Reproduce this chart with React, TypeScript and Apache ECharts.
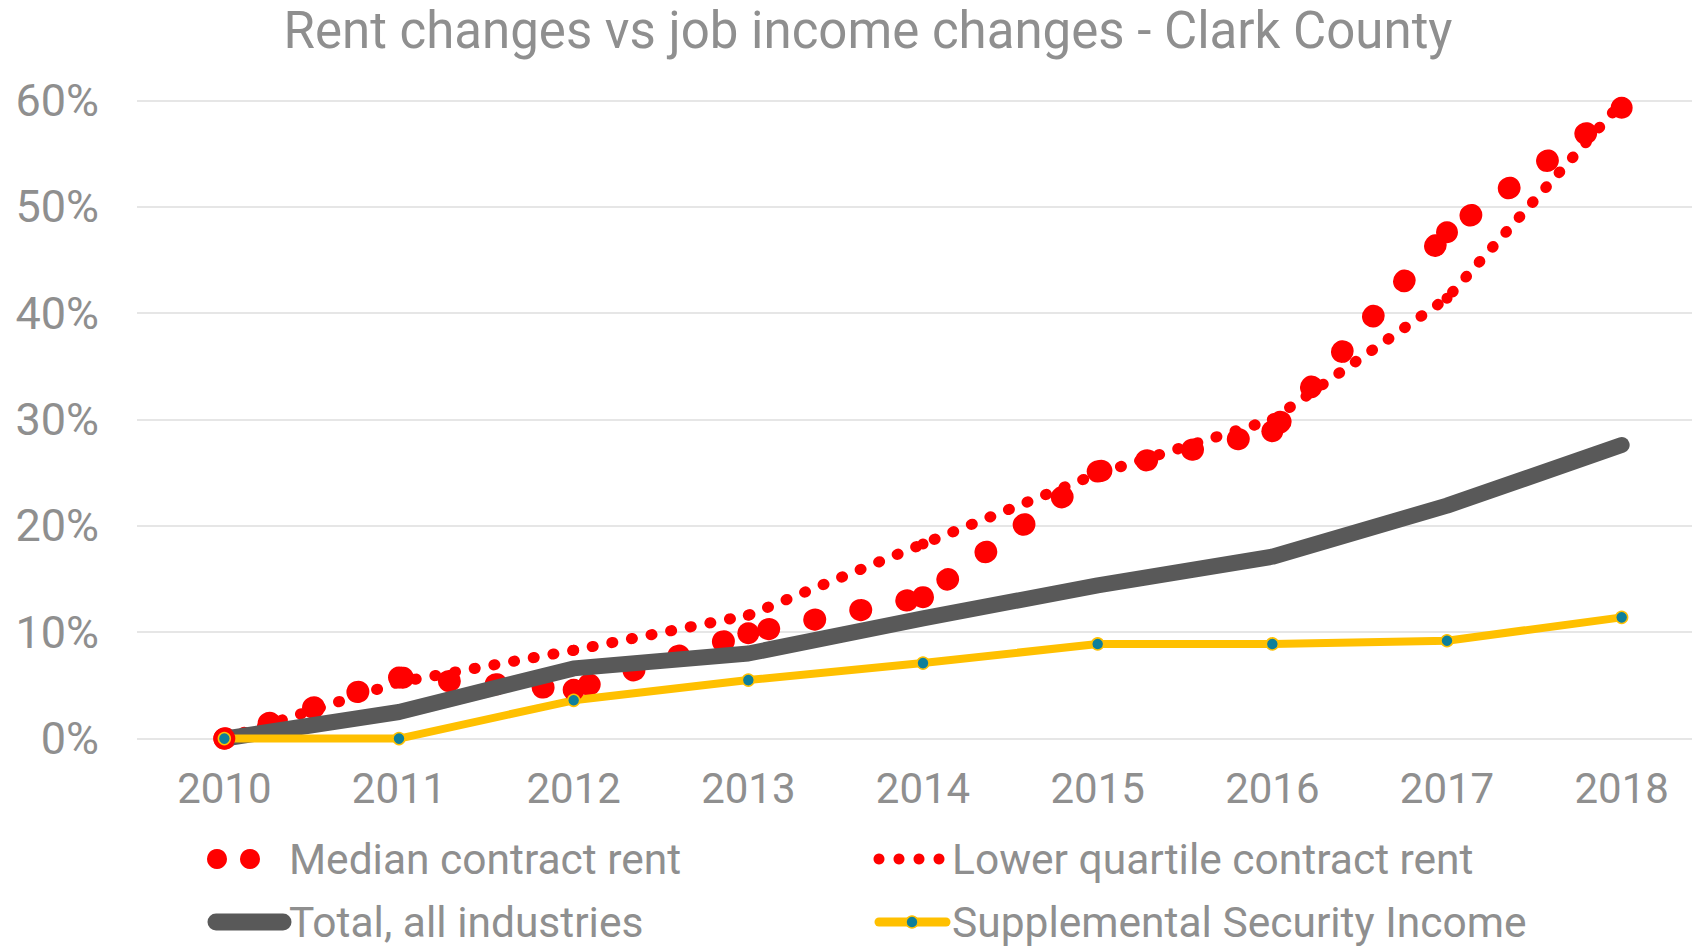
import React, { useEffect, useRef } from "react";
import * as echarts from "echarts";

// ---- data (percent change since 2010) ----
const years = ["2010", "2011", "2012", "2013", "2014", "2015", "2016", "2017", "2018"];
const medianContractRent = [0, 5.75, 4.6, 9.9, 13.3, 25.1, 28.9, 47.6, 59.3];
const lowerQuartileContractRent = [0, 5.3, 8.3, 11.6, 18.3, 24.9, 30.0, 41.4, 59.8];
const totalAllIndustries = [0, 2.5, 6.6, 8.0, 11.3, 14.4, 17.1, 21.9, 27.6];
const supplementalSecurityIncome = [0, 0, 3.6, 5.5, 7.1, 8.9, 8.9, 9.2, 11.4];

const seriesNames = [
  "Median contract rent",
  "Lower quartile contract rent",
  "Total, all industries",
  "Supplemental Security Income",
];
const titleText = "Rent changes vs job income changes - Clark County";

// ---- style ----
const RED = "#FF0000";
const DARK = "#595959";
const YELLOW = "#FFC000";
const TEAL = "#0E7F9B";
const TEXT = "#8F8F8F";
const GRID = "#DEDEDE";
const FONT = "Roboto";

export default function App() {
  const ref = useRef<HTMLDivElement>(null);

  useEffect(() => {
    if (!ref.current) return;
    const chart = echarts.init(ref.current, undefined, { renderer: "svg" });

    const legendText = (text: string, x: number, y: number) => ({
      type: "text",
      x,
      y,
      style: {
        text,
        fill: TEXT,
        fontSize: 42.5,
        fontFamily: FONT,
        align: "left",
        verticalAlign: "middle",
      },
    });

    const option: any = {
      animation: false,
      backgroundColor: "#ffffff",
      title: {
        text: titleText,
        left: 868,
        top: 0,
        padding: 0,
        textAlign: "center",
        textStyle: {
          color: TEXT,
          fontSize: 51,
          lineHeight: 61,
          fontWeight: "normal",
          fontFamily: FONT,
        },
      },
      grid: {
        left: 137,
        right: -17,
        top: 100.4,
        bottom: 208.4,
        containLabel: false,
        outerBoundsMode: "none",
      },
      xAxis: {
        type: "category",
        data: years,
        boundaryGap: true,
        axisLine: { show: false },
        axisTick: { show: false },
        splitLine: { show: false },
        axisLabel: {
          color: TEXT,
          fontSize: 42,
          fontFamily: FONT,
          margin: 29,
          interval: 0,
        },
      },
      yAxis: {
        type: "value",
        min: 0,
        max: 60,
        interval: 10,
        axisLine: { show: false },
        axisTick: { show: false },
        splitLine: { lineStyle: { color: GRID, width: 1.5 } },
        axisLabel: {
          color: TEXT,
          fontSize: 45,
          fontFamily: FONT,
          margin: 38,
          formatter: "{value}%",
        },
      },
      series: [
        {
          name: seriesNames[0],
          type: "line",
          data: medianContractRent,
          clip: false,
          symbol: "circle",
          symbolSize: 22,
          showSymbol: true,
          itemStyle: { color: RED },
          lineStyle: { color: RED, width: 22, type: [1, 46], cap: "round" },
        },
        {
          name: seriesNames[1],
          type: "line",
          data: lowerQuartileContractRent,
          clip: false,
          symbol: "circle",
          symbolSize: 11,
          showSymbol: true,
          itemStyle: { color: RED },
          lineStyle: { color: RED, width: 11, type: [1, 19], cap: "round" },
        },
        {
          name: seriesNames[2],
          type: "line",
          data: totalAllIndustries,
          clip: false,
          showSymbol: false,
          symbol: "none",
          lineStyle: { color: DARK, width: 16, cap: "round", join: "round" },
        },
        {
          name: seriesNames[3],
          type: "line",
          data: supplementalSecurityIncome,
          clip: false,
          symbol: "circle",
          symbolSize: 12,
          showSymbol: true,
          itemStyle: { color: TEAL, borderColor: YELLOW, borderWidth: 1.5 },
          lineStyle: { color: YELLOW, width: 8, join: "round" },
        },
      ],
      graphic: [
        { type: "circle", shape: { cx: 217, cy: 859, r: 10 }, style: { fill: RED } },
        { type: "circle", shape: { cx: 250, cy: 859, r: 10 }, style: { fill: RED } },
        { type: "circle", shape: { cx: 879, cy: 859, r: 5.5 }, style: { fill: RED } },
        { type: "circle", shape: { cx: 899, cy: 859, r: 5.5 }, style: { fill: RED } },
        { type: "circle", shape: { cx: 919, cy: 859, r: 5.5 }, style: { fill: RED } },
        { type: "circle", shape: { cx: 939, cy: 859, r: 5.5 }, style: { fill: RED } },
        {
          type: "line",
          shape: { x1: 216, y1: 922, x2: 283, y2: 922 },
          style: { stroke: DARK, lineWidth: 17, lineCap: "round" },
        },
        {
          type: "line",
          shape: { x1: 879, y1: 922, x2: 946, y2: 922 },
          style: { stroke: YELLOW, lineWidth: 9, lineCap: "round" },
        },
        {
          type: "circle",
          shape: { cx: 912, cy: 922, r: 6 },
          style: { fill: TEAL, stroke: YELLOW, lineWidth: 1.5 },
        },
        legendText(seriesNames[0], 289, 859),
        legendText(seriesNames[1], 952, 859),
        legendText(seriesNames[2], 289, 922),
        legendText(seriesNames[3], 952, 922),
      ],
    };

    chart.setOption(option);
    return () => {
      chart.dispose();
    };
  }, []);

  return (
    <div
      ref={ref}
      style={{ position: "absolute", left: 0, top: 0, width: 1692, height: 947 }}
    />
  );
}
